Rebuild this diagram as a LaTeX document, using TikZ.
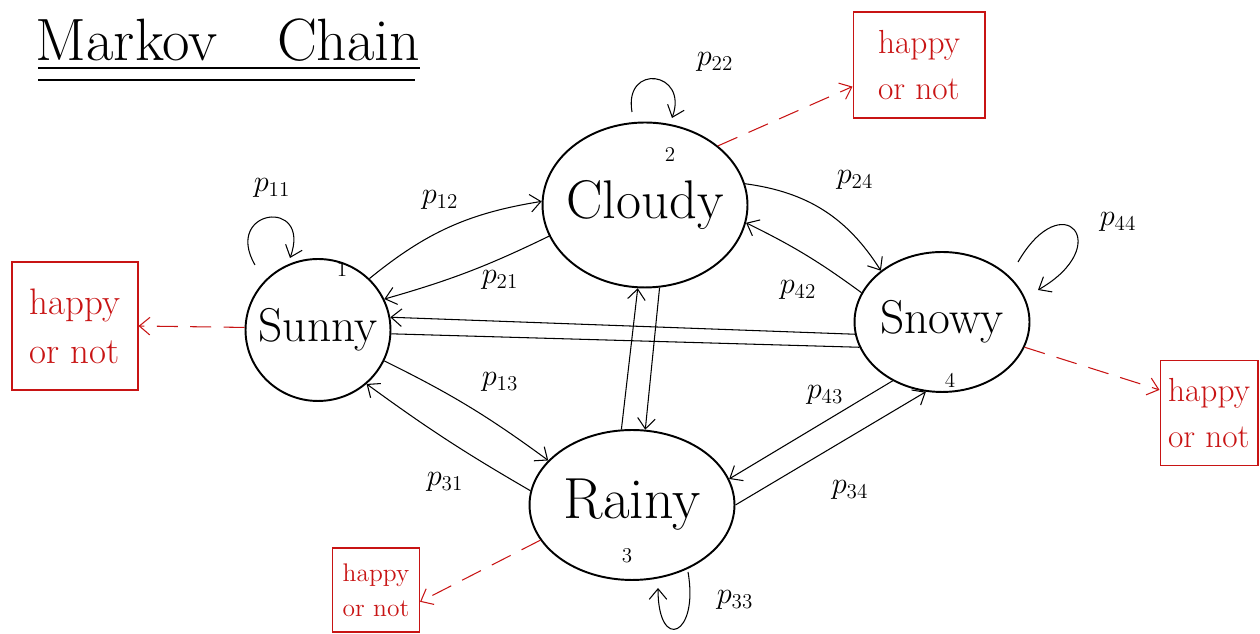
\documentclass[tikz,border=0pt]{standalone}
\usepackage{amsmath, amssymb}
\usepackage{tikz}
\usetikzlibrary{calc,shapes,arrows,arrows.meta}

\definecolor{inkred}{RGB}{200,20,20}

\tikzset{
    state/.style={draw, line width=1.1pt, ellipse, inner sep=0pt},
    statename/.style={font=\fontsize{27}{32}\selectfont},
    arr/.style={semithick, -{Straight Barb[length=6pt,width=10pt]}},
    prob/.style={font=\LARGE},
    happybox/.style={draw=inkred, text=inkred, semithick, align=left, font=\fontsize{19}{26}\selectfont},
    redarr/.style={inkred, semithick, dash pattern=on 12pt off 7pt, -{Straight Barb[length=6pt,width=10pt]}}
}

\begin{document}
\begin{tikzpicture}[x=0.02cm, y=0.02cm]
        \useasboundingbox (0,0) rectangle (1260,634);
        \node[font=\fontsize{34}{40}\selectfont] (title) at (228,594) {Markov\quad Chain};
        \draw[semithick] (38,566) -- (420,566);
        \draw[semithick] (38,554) -- (415,554);

        \node[state, minimum width=2.9cm, minimum height=2.84cm, label={[statename]center:Sunny}] (sunny) at (318,304) {};
        \node[state, minimum width=4.1cm, minimum height=3.3cm, label={[statename, font=\fontsize{31}{36}\selectfont]center:Cloudy}] (cloudy) at (645,429) {};
        \node[state, minimum width=4.1cm, minimum height=3.0cm, label={[statename, font=\fontsize{33}{38}\selectfont]center:Rainy}] (rainy) at (632,129) {};
        \node[state, minimum width=3.5cm, minimum height=2.8cm, label={[statename]center:Snowy}] (snowy) at (942,312) {};
        \node (n1) at (342,364) {\large 1};
        \node (n2) at (670,479) {\large 2};
        \node (n3) at (627,78) {\large 3};
        \node (n4) at (950,254) {\large 4};

        \node[happybox, minimum width=2.52cm, minimum height=2.56cm, font=\fontsize{21}{28}\selectfont] (hap1) at (75,308) {happy\\or not};
        \node[happybox, minimum width=2.64cm, minimum height=2.12cm] (hap2) at (919,569) {happy\\or not};
        \node[happybox, minimum width=1.74cm, minimum height=1.68cm, font=\fontsize{14.5}{20}\selectfont] (hap3) at (376,44) {happy\\or not};
        \node[happybox, minimum width=1.96cm, minimum height=2.1cm] (hap4) at (1209,221) {happy\\or not};

        \draw[arr] (sunny.45) to[bend left=15] (cloudy.178);
        \draw[arr] (cloudy.198) to[bend left=5] (sunny.25);
        \draw[arr] (cloudy.12) to[bend left=25] (snowy.140);
        \draw[arr] (snowy.160) to[bend right=5] (cloudy.-10);
        \draw[arr] (snowy.188) -- (sunny.10);
        \draw[semithick] (snowy.197) -- (sunny.-3);
        \draw[arr] (rainy.98) -- (cloudy.265);
        \draw[arr] (cloudy.280) -- (rainy.80);
        \draw[arr] (sunny.-25) to[bend left=5] (rainy.152);
        \draw[arr] (rainy.172) to[bend left=3] (sunny.-48);
        \draw[arr] (snowy.230) -- (rainy.15);
        \draw[arr] (rainy.0) -- (snowy.257);

        \coordinate (l11a) at (255,369);
        \coordinate (l11b) at (290,376);
        \coordinate (l22a) at (632,522);
        \coordinate (l22b) at (672,516);
        \coordinate (l33a) at (688,62);
        \coordinate (l33b) at (658,46);
        \coordinate (l44a) at (1018,372);
        \coordinate (l44b) at (1038,344);
        \draw[arr] (l11a) to[out=120, in=70, distance=1.3cm] (l11b);
        \draw[arr] (l22a) to[out=100, in=70, distance=1cm] (l22b);
        \draw[arr] (l33a) to[out=-80, in=-90, distance=1.3cm] (l33b);
        \draw[arr] (l44a) to[out=60, in=30, distance=1.8cm] (l44b);

        \node[prob] (p11) at (272,446) {$p_{11}$};
        \node[prob] (p12) at (440,434) {$p_{12}$};
        \node[prob] (p21) at (500,354) {$p_{21}$};
        \node[prob] (p22) at (715,572) {$p_{22}$};
        \node[prob] (p24) at (855,454) {$p_{24}$};
        \node[prob] (p42) at (798,344) {$p_{42}$};
        \node[prob] (p44) at (1118,412) {$p_{44}$};
        \node[prob] (p13) at (500,252) {$p_{13}$};
        \node[prob] (p31) at (445,152) {$p_{31}$};
        \node[prob] (p43) at (825,239) {$p_{43}$};
        \node[prob] (p34) at (850,144) {$p_{34}$};
        \node[prob] (p33) at (735,34) {$p_{33}$};

        \draw[redarr] (sunny.178) -- (hap1.east);
        \draw[redarr] (cloudy.39) -- (hap2.198);
        \draw[redarr] (rainy.201) -- (hap3.-15);
        \draw[redarr] (snowy.-17) -- (hap4.155);
    \end{tikzpicture}
\end{document}
